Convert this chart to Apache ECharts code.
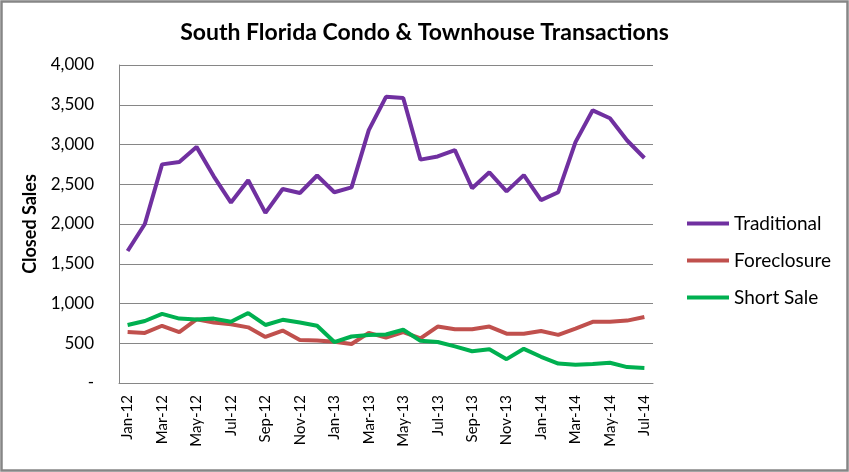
<!DOCTYPE html>
<html>
<head>
<meta charset="utf-8">
<title>South Florida Condo & Townhouse Transactions</title>
<script src="https://cdn.jsdelivr.net/npm/echarts@6/dist/echarts.min.js"></script>
<style>
body{margin:0;background:#fff;}
#chart{width:849px;height:472px;}
</style>
</head>
<body>
<div id="chart"></div>
<script>

const months=["Jan-12","Feb-12","Mar-12","Apr-12","May-12","Jun-12","Jul-12","Aug-12","Sep-12","Oct-12","Nov-12","Dec-12",
"Jan-13","Feb-13","Mar-13","Apr-13","May-13","Jun-13","Jul-13","Aug-13","Sep-13","Oct-13","Nov-13","Dec-13",
"Jan-14","Feb-14","Mar-14","Apr-14","May-14","Jun-14","Jul-14"]

const traditional=[1660,2000,2750,2780,2970,2600,2270,2550,2140,2440,2390,2610,
2400,2460,3180,3600,3585,2810,2850,2930,2450,2650,2410,2615,
2300,2400,3030,3430,3330,3050,2830]

const foreclosure=[640,630,720,640,800,760,740,700,580,660,540,535,
520,490,630,570,640,560,710,675,675,710,620,620,
655,605,685,770,770,785,830]

const shortSale=[730,780,870,810,800,810,770,880,730,795,760,720,
515,585,605,610,670,530,515,460,400,425,300,430,
330,245,230,240,255,200,190]

const font="Lato, 'Open Sans', sans-serif"

const chart=echarts.init(document.getElementById("chart"))

chart.setOption({
  animation:false,
  textStyle:{fontFamily:font},
  title:{
    text:"South Florida Condo & Townhouse Transactions",
    left:"center",
    top:16,
    textStyle:{fontFamily:font,fontSize:23,fontWeight:"bold",color:"#000"}
  },
  graphic:[{
    type:"rect",
    shape:{x:1.5,y:1.5,width:846,height:469},
    style:{fill:"none",stroke:"#868686",lineWidth:2.5}
  }],
  legend:{
    orient:"vertical",
    left:682,
    top:209,
    itemWidth:42,
    itemHeight:4,
    itemGap:18,
    icon:"rect",
    textStyle:{fontFamily:font,fontSize:19,color:"#000"},
    data:["Traditional","Foreclosure","Short Sale"]
  },
  grid:{left:119,right:196,top:65,bottom:89},
  xAxis:{
    type:"category",
    data:months,
    boundaryGap:true,
    axisLine:{lineStyle:{color:"#868686",width:1}},
    axisTick:{show:false},
    axisLabel:{rotate:90,interval:1,margin:12,fontSize:15,color:"#000",fontFamily:font}
  },
  yAxis:{
    type:"value",
    min:0,
    max:4000,
    interval:500,
    name:"Closed Sales",
    nameLocation:"middle",
    nameRotate:90,
    nameGap:80,
    nameTextStyle:{fontFamily:font,fontSize:18,fontWeight:"bold",color:"#000"},
    axisLine:{show:true,lineStyle:{color:"#868686",width:1}},
    axisTick:{show:false},
    splitLine:{lineStyle:{color:"#868686",width:1}},
    axisLabel:{
      margin:25,
      fontSize:17,
      color:"#000",
      fontFamily:font,
      formatter:v=>v===0?"-":v.toLocaleString("en-US")
    }
  },
  series:[
    {name:"Traditional",type:"line",data:traditional,symbol:"none",
     lineStyle:{color:"#7030A0",width:4},itemStyle:{color:"#7030A0"}},
    {name:"Foreclosure",type:"line",data:foreclosure,symbol:"none",
     lineStyle:{color:"#C0504D",width:4},itemStyle:{color:"#C0504D"}},
    {name:"Short Sale",type:"line",data:shortSale,symbol:"none",
     lineStyle:{color:"#00B050",width:4},itemStyle:{color:"#00B050"}}
  ]
})

</script>
</body>
</html>
